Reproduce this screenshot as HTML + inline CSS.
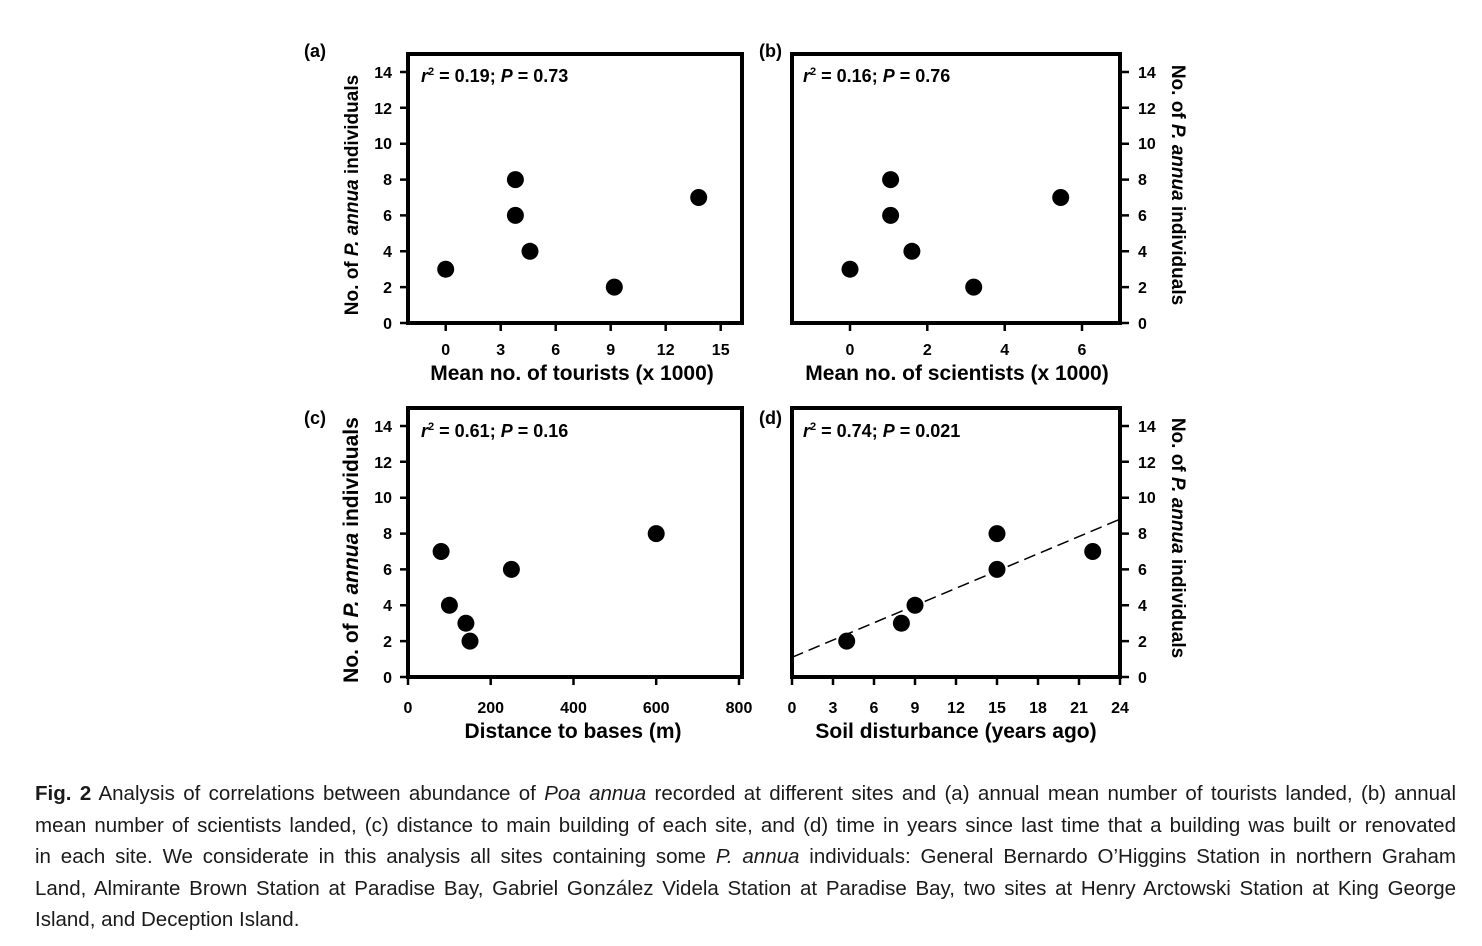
<!DOCTYPE html>
<html><head><meta charset="utf-8"><style>
body{margin:0;background:#fff;width:1482px;height:946px;overflow:hidden;position:relative;font-family:"Liberation Sans",sans-serif}
svg{position:absolute;left:0;top:0}
.cap{position:absolute;left:35px;width:1421px;font-size:20.5px;color:#1a1a1a;font-family:"Liberation Sans",sans-serif}
.cap div{height:31.5px;line-height:31.5px;text-align:justify;text-align-last:justify;white-space:nowrap}
.cap div.last{text-align-last:left}
</style></head><body>
<svg width="1482" height="760" xmlns="http://www.w3.org/2000/svg" font-family="Liberation Sans, sans-serif" font-weight="bold">
<g fill="none" stroke="#000" stroke-width="4">
<rect x="408" y="54" width="334" height="269"/>
<rect x="792" y="54" width="328" height="269"/>
<rect x="408" y="408" width="334" height="269"/>
<rect x="792" y="408" width="328" height="269"/>
</g>
<g stroke="#000" stroke-width="2.5">
<path d="M400 323H408M400 287.1H408M400 251.3H408M400 215.4H408M400 179.6H408M400 143.7H408M400 107.8H408M400 72H408"/>
<path d="M445.7 323V331M500.7 323V331M555.7 323V331M610.7 323V331M665.7 323V331M720.7 323V331"/>
<path d="M1120 323H1129M1120 287.1H1129M1120 251.3H1129M1120 215.4H1129M1120 179.6H1129M1120 143.7H1129M1120 107.8H1129M1120 72H1129"/>
<path d="M850 323V331M927.3 323V331M1004.7 323V331M1082 323V331"/>
<path d="M400 677H408M400 641.1H408M400 605.3H408M400 569.4H408M400 533.6H408M400 497.7H408M400 461.8H408M400 426H408"/>
<path d="M408 677V685M490.7 677V685M573.5 677V685M656.2 677V685M739 677V685"/>
<path d="M1120 677H1129M1120 641.1H1129M1120 605.3H1129M1120 569.4H1129M1120 533.6H1129M1120 497.7H1129M1120 461.8H1129M1120 426H1129"/>
<path d="M792 677V685M833 677V685M874 677V685M915 677V685M956 677V685M997 677V685M1038 677V685M1079 677V685M1120 677V685"/>
</g>
<path d="M792 657.3L1120 519.2" stroke="#000" stroke-width="1.5" stroke-dasharray="12,6" fill="none"/>
<g fill="#000">
<circle cx="445.7" cy="269.2" r="8.5"/><circle cx="515.4" cy="179.6" r="8.5"/><circle cx="515.4" cy="215.4" r="8.5"/><circle cx="530" cy="251.3" r="8.5"/><circle cx="614.3" cy="287.1" r="8.5"/><circle cx="698.7" cy="197.5" r="8.5"/>
<circle cx="850" cy="269.2" r="8.5"/><circle cx="890.6" cy="179.6" r="8.5"/><circle cx="890.6" cy="215.4" r="8.5"/><circle cx="911.9" cy="251.3" r="8.5"/><circle cx="973.7" cy="287.1" r="8.5"/><circle cx="1060.7" cy="197.5" r="8.5"/>
<circle cx="441.1" cy="551.5" r="8.5"/><circle cx="449.4" cy="605.3" r="8.5"/><circle cx="465.9" cy="623.2" r="8.5"/><circle cx="470" cy="641.1" r="8.5"/><circle cx="511.4" cy="569.4" r="8.5"/><circle cx="656.2" cy="533.6" r="8.5"/>
<circle cx="846.7" cy="641.1" r="8.5"/><circle cx="901.4" cy="623.2" r="8.5"/><circle cx="915" cy="605.3" r="8.5"/><circle cx="997" cy="533.6" r="8.5"/><circle cx="997" cy="569.4" r="8.5"/><circle cx="1092.7" cy="551.5" r="8.5"/>
</g>
<g font-size="16" text-anchor="end">
<text x="392" y="329">0</text><text x="392" y="293">2</text><text x="392" y="257">4</text><text x="392" y="221">6</text><text x="392" y="185">8</text><text x="392" y="149">10</text><text x="392" y="114">12</text><text x="392" y="78">14</text>
<text x="392" y="683">0</text><text x="392" y="647">2</text><text x="392" y="611">4</text><text x="392" y="575">6</text><text x="392" y="539">8</text><text x="392" y="503">10</text><text x="392" y="468">12</text><text x="392" y="432">14</text>
</g>
<g font-size="16" text-anchor="start">
<text x="1138" y="329">0</text><text x="1138" y="293">2</text><text x="1138" y="257">4</text><text x="1138" y="221">6</text><text x="1138" y="185">8</text><text x="1138" y="149">10</text><text x="1138" y="114">12</text><text x="1138" y="78">14</text>
<text x="1138" y="683">0</text><text x="1138" y="647">2</text><text x="1138" y="611">4</text><text x="1138" y="575">6</text><text x="1138" y="539">8</text><text x="1138" y="503">10</text><text x="1138" y="468">12</text><text x="1138" y="432">14</text>
</g>
<g font-size="16" text-anchor="middle">
<text x="445.7" y="355">0</text><text x="500.7" y="355">3</text><text x="555.7" y="355">6</text><text x="610.7" y="355">9</text><text x="665.7" y="355">12</text><text x="720.7" y="355">15</text>
<text x="850" y="355">0</text><text x="927.3" y="355">2</text><text x="1004.7" y="355">4</text><text x="1082" y="355">6</text>
<text x="408" y="713">0</text><text x="490.7" y="713">200</text><text x="573.5" y="713">400</text><text x="656.2" y="713">600</text><text x="739" y="713">800</text>
<text x="792" y="713">0</text><text x="833" y="713">3</text><text x="874" y="713">6</text><text x="915" y="713">9</text><text x="956" y="713">12</text><text x="997" y="713">15</text><text x="1038" y="713">18</text><text x="1079" y="713">21</text><text x="1120" y="713">24</text>
</g>
<g font-size="21" text-anchor="middle">
<text x="572" y="380">Mean no. of tourists (x 1000)</text>
<text x="957" y="380">Mean no. of scientists (x 1000)</text>
<text x="573" y="738">Distance to bases (m)</text>
<text x="956" y="738">Soil disturbance (years ago)</text>
<text transform="translate(358,195) rotate(-90)" font-size="19">No. of <tspan font-style="italic">P. annua</tspan> individuals</text>
<text transform="translate(358,550) rotate(-90)" font-size="21">No. of <tspan font-style="italic">P. annua</tspan> individuals</text>
<text transform="translate(1172,185) rotate(90)" font-size="19">No. of <tspan font-style="italic">P. annua</tspan> individuals</text>
<text transform="translate(1172,538) rotate(90)" font-size="19">No. of <tspan font-style="italic">P. annua</tspan> individuals</text>
</g>
<g font-size="18">
<text x="304" y="57">(a)</text><text x="759" y="57">(b)</text><text x="304" y="424">(c)</text><text x="759" y="424">(d)</text>
</g>
<g font-size="18">
<text x="421" y="82"><tspan font-style="italic">r</tspan><tspan font-size="11" dy="-7">2</tspan><tspan dy="7"> = 0.19; </tspan><tspan font-style="italic">P</tspan> = 0.73</text>
<text x="803" y="82"><tspan font-style="italic">r</tspan><tspan font-size="11" dy="-7">2</tspan><tspan dy="7"> = 0.16; </tspan><tspan font-style="italic">P</tspan> = 0.76</text>
<text x="421" y="437"><tspan font-style="italic">r</tspan><tspan font-size="11" dy="-7">2</tspan><tspan dy="7"> = 0.61; </tspan><tspan font-style="italic">P</tspan> = 0.16</text>
<text x="803" y="437"><tspan font-style="italic">r</tspan><tspan font-size="11" dy="-7">2</tspan><tspan dy="7"> = 0.74; </tspan><tspan font-style="italic">P</tspan> = 0.021</text>
</g>
</svg>
<div class="cap" style="top:778px">
<div><b>Fig. 2</b> Analysis of correlations between abundance of <i>Poa annua</i> recorded at different sites and (a) annual mean number of tourists landed, (b) annual</div>
<div>mean number of scientists landed, (c) distance to main building of each site, and (d) time in years since last time that a building was built or renovated</div>
<div>in each site. We considerate in this analysis all sites containing some <i>P. annua</i> individuals: General Bernardo O’Higgins Station in northern Graham</div>
<div>Land, Almirante Brown Station at Paradise Bay, Gabriel González Videla Station at Paradise Bay, two sites at Henry Arctowski Station at King George</div>
<div class="last">Island, and Deception Island.</div>
</div>
</body></html>
